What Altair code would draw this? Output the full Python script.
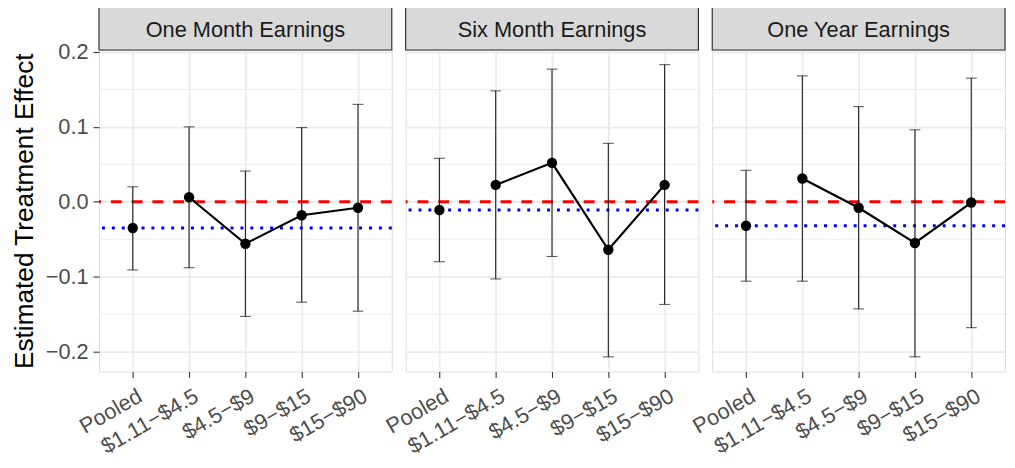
import altair as alt
import pandas as pd

categories = ["Pooled", "$1.11\u2212$4.5", "$4.5\u2212$9", "$9\u2212$15", "$15\u2212$90"]
panels = ["One Month Earnings", "Six Month Earnings", "One Year Earnings"]

one_month_est = [-0.035, 0.006, -0.056, -0.018, -0.008]
one_month_lo = [-0.091, -0.088, -0.153, -0.134, -0.146]
one_month_hi = [0.020, 0.100, 0.041, 0.099, 0.130]

six_month_est = [-0.011, 0.0225, 0.052, -0.064, 0.0225]
six_month_lo = [-0.080, -0.103, -0.073, -0.207, -0.137]
six_month_hi = [0.058, 0.148, 0.177, 0.078, 0.183]

one_year_est = [-0.032, 0.031, -0.008, -0.055, -0.001]
one_year_lo = [-0.106, -0.106, -0.143, -0.207, -0.168]
one_year_hi = [0.042, 0.168, 0.127, 0.096, 0.165]

major_ticks = [-0.2, -0.1, 0.0, 0.1, 0.2]
minor_ticks = [-0.15, -0.05, 0.05, 0.15]

series = [
    (one_month_est, one_month_lo, one_month_hi),
    (six_month_est, six_month_lo, six_month_hi),
    (one_year_est, one_year_lo, one_year_hi),
]

W = 296
H = 325
STRIP = 43
FONT = "Liberation Sans"

yscale = alt.Scale(domain=[-0.2265, 0.2025], nice=False, zero=False)
xscale = alt.Scale(type="point", padding=0.6)


def make_panel(i):
    est, lo, hi = series[i]
    df = pd.DataFrame({"cat": categories, "est": est, "lo": lo, "hi": hi})
    df_line = df[df["cat"] != "Pooled"]
    pooled = pd.DataFrame({"pooled": [est[0]]})
    title_df = pd.DataFrame({"panel": [panels[i]]})
    minor_df = pd.DataFrame({"v": minor_ticks})

    if i == 0:
        yaxis = alt.Axis(
            values=major_ticks, format=".1f", grid=True, gridColor="#EBEBEB",
            gridWidth=1.8, domain=False, tickColor="#333333", tickSize=6,
            tickWidth=1.1, labelFontSize=22, labelColor="#4D4D4D",
            labelPadding=5, title="Estimated Treatment Effect",
            titleFontSize=26.5, titleFontWeight="normal", titleColor="black",
            titlePadding=7, labelFont=FONT, titleFont=FONT,
        )
    else:
        yaxis = alt.Axis(
            values=major_ticks, grid=True, gridColor="#EBEBEB", gridWidth=1.8,
            domain=False, ticks=False, labels=False, title=None,
        )
    xaxis = alt.Axis(
        grid=True, gridColor="#EBEBEB", gridWidth=1.8, domain=False,
        tickColor="#333333", tickSize=6, tickWidth=1.1, labelAngle=-30,
        labelAlign="right", labelBaseline="top", labelFontSize=22,
        labelColor="#4D4D4D", labelPadding=8, labelOffset=2, title=None,
        labelFont=FONT, labelOverlap=False,
    )

    x = alt.X("cat:N", sort=categories, scale=xscale, axis=xaxis)

    minor = alt.Chart(minor_df).mark_rule(color="#EBEBEB", strokeWidth=0.9).encode(
        y=alt.Y("v:Q", scale=yscale, axis=yaxis)
    )
    zero = alt.Chart(pooled).mark_rule(color="#FF0000", strokeWidth=3, strokeDash=[11, 10]).encode(
        y=alt.datum(0)
    )
    blue = alt.Chart(pooled).mark_rule(color="#0000FF", strokeWidth=3, strokeDash=[3, 7]).encode(
        y="pooled:Q"
    )
    base = alt.Chart(df).encode(x=x)
    bars = base.mark_rule(color="#1A1A1A", strokeWidth=1.1).encode(
        y=alt.Y("lo:Q", scale=yscale), y2="hi:Q"
    )
    cap_lo = base.mark_tick(color="#1A1A1A", size=11, thickness=1.1, orient="horizontal").encode(
        y=alt.Y("lo:Q", scale=yscale)
    )
    cap_hi = base.mark_tick(color="#1A1A1A", size=11, thickness=1.1, orient="horizontal").encode(
        y=alt.Y("hi:Q", scale=yscale)
    )
    line = alt.Chart(df_line).mark_line(color="black", strokeWidth=2.2).encode(
        x=x, y=alt.Y("est:Q", scale=yscale)
    )
    pts = base.mark_point(filled=True, color="black", size=110, opacity=1).encode(
        y=alt.Y("est:Q", scale=yscale)
    )
    strip_rect = alt.Chart(title_df).mark_rect(
        fill="#D9D9D9", stroke="#333333", strokeWidth=1.2
    ).encode(
        x=alt.value(0), x2=alt.value(W), y=alt.value(-STRIP), y2=alt.value(0)
    )
    strip_text = alt.Chart(title_df).mark_text(
        fontSize=22, color="#1A1A1A", font=FONT, baseline="middle", align="center"
    ).encode(
        text="panel:N", x=alt.value(W / 2), y=alt.value(-STRIP / 2 + 1)
    )
    return alt.layer(
        minor, zero, blue, bars, cap_lo, cap_hi, line, pts, strip_rect, strip_text
    ).properties(width=W, height=H)


chart = alt.hconcat(
    *[make_panel(i) for i in range(3)], spacing=14, bounds="flush"
).properties(
    padding={"left": 3, "top": -5, "right": 0, "bottom": 0}
).configure_view(
    stroke="#333333", strokeWidth=1.2
).configure(font=FONT, background="white")

chart.save("out.html", embed_options={"renderer": "svg", "actions": False})
